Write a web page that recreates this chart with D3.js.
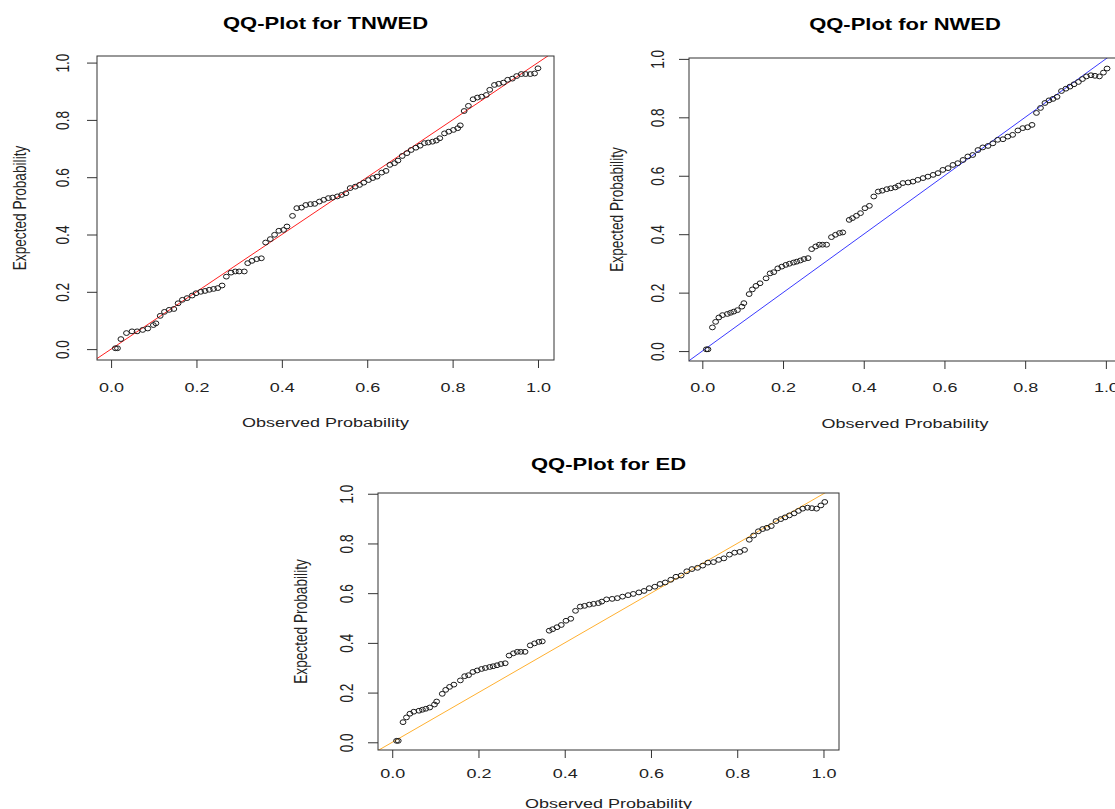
<!DOCTYPE html>
<html lang="en">
<head>
<meta charset="UTF-8">
<title>QQ-Plots</title>
<style>
  body { margin: 0; background: #fff; overflow: hidden; }
  svg { display: block; font-family: "Liberation Sans", Arial, sans-serif; }
</style>
</head>
<body>
<div id="chart"></div>
<script src="https://d3js.org/d3.v7.min.js"></script>
<script>
// axis ticks shared by all three plots
const tickValues = [0, 0.2, 0.4, 0.6, 0.8, 1.0];
const tickLabels = ["0.0", "0.2", "0.4", "0.6", "0.8", "1.0"];

// TNWED: observed vs expected probability
const tnwedObserved = [0.010, 0.015, 0.023, 0.036, 0.049, 0.061, 0.074, 0.086, 0.099, 0.105,
  0.115, 0.125, 0.136, 0.147, 0.157, 0.167, 0.178, 0.190, 0.199, 0.210,
  0.220, 0.230, 0.240, 0.250, 0.260, 0.270, 0.281, 0.291, 0.300, 0.312,
  0.320, 0.330, 0.341, 0.352, 0.362, 0.373, 0.383, 0.393, 0.404, 0.412,
  0.425, 0.435, 0.446, 0.456, 0.467, 0.477, 0.488, 0.498, 0.509, 0.519,
  0.530, 0.540, 0.550, 0.560, 0.572, 0.582, 0.592, 0.603, 0.613, 0.623,
  0.634, 0.644, 0.653, 0.664, 0.672, 0.682, 0.693, 0.703, 0.714, 0.724,
  0.734, 0.743, 0.753, 0.762, 0.770, 0.781, 0.791, 0.802, 0.812, 0.818,
  0.827, 0.837, 0.848, 0.858, 0.868, 0.879, 0.887, 0.898, 0.908, 0.919,
  0.929, 0.940, 0.950, 0.961, 0.971, 0.982, 0.992, 1.000];
const tnwedExpected = [0.003, 0.003, 0.035, 0.056, 0.062, 0.062, 0.067, 0.072, 0.084, 0.090,
  0.116, 0.130, 0.137, 0.140, 0.160, 0.172, 0.178, 0.187, 0.195, 0.200,
  0.203, 0.207, 0.210, 0.213, 0.222, 0.253, 0.267, 0.271, 0.271, 0.271,
  0.300, 0.308, 0.314, 0.317, 0.372, 0.384, 0.399, 0.413, 0.416, 0.428,
  0.465, 0.492, 0.494, 0.503, 0.506, 0.507, 0.515, 0.521, 0.527, 0.529,
  0.533, 0.538, 0.544, 0.562, 0.567, 0.573, 0.581, 0.590, 0.597, 0.602,
  0.616, 0.622, 0.643, 0.649, 0.658, 0.674, 0.684, 0.695, 0.703, 0.710,
  0.719, 0.721, 0.724, 0.728, 0.736, 0.753, 0.759, 0.765, 0.771, 0.781,
  0.831, 0.849, 0.872, 0.878, 0.881, 0.887, 0.905, 0.922, 0.926, 0.930,
  0.940, 0.944, 0.953, 0.960, 0.960, 0.960, 0.962, 0.980];

// NWED
const nwedObserved = [0.010, 0.014, 0.025, 0.033, 0.041, 0.050, 0.062, 0.070, 0.078, 0.087,
  0.098, 0.103, 0.116, 0.124, 0.133, 0.143, 0.158, 0.168, 0.177, 0.187,
  0.197, 0.207, 0.216, 0.226, 0.234, 0.243, 0.252, 0.262, 0.271, 0.281,
  0.290, 0.298, 0.308, 0.320, 0.330, 0.340, 0.348, 0.364, 0.372, 0.382,
  0.392, 0.403, 0.414, 0.425, 0.436, 0.446, 0.457, 0.467, 0.478, 0.486,
  0.497, 0.510, 0.522, 0.534, 0.547, 0.559, 0.572, 0.584, 0.596, 0.609,
  0.621, 0.633, 0.646, 0.658, 0.670, 0.683, 0.695, 0.708, 0.720, 0.732,
  0.745, 0.757, 0.769, 0.782, 0.794, 0.806, 0.817, 0.828, 0.838, 0.849,
  0.859, 0.869, 0.879, 0.890, 0.901, 0.911, 0.921, 0.932, 0.942, 0.952,
  0.963, 0.973, 0.984, 0.994, 1.003];
const nwedExpected = [0.006, 0.006, 0.081, 0.100, 0.115, 0.123, 0.127, 0.131, 0.135, 0.140,
  0.152, 0.164, 0.195, 0.211, 0.223, 0.232, 0.249, 0.266, 0.270, 0.283,
  0.289, 0.295, 0.299, 0.303, 0.306, 0.310, 0.315, 0.318, 0.349, 0.358,
  0.364, 0.364, 0.364, 0.390, 0.398, 0.404, 0.406, 0.449, 0.455, 0.463,
  0.472, 0.489, 0.497, 0.529, 0.546, 0.549, 0.554, 0.557, 0.560, 0.566,
  0.575, 0.577, 0.580, 0.586, 0.592, 0.597, 0.603, 0.609, 0.620, 0.626,
  0.637, 0.643, 0.654, 0.666, 0.671, 0.688, 0.697, 0.702, 0.711, 0.723,
  0.725, 0.734, 0.740, 0.755, 0.763, 0.766, 0.774, 0.815, 0.832, 0.849,
  0.858, 0.863, 0.870, 0.890, 0.898, 0.905, 0.913, 0.921, 0.931, 0.940,
  0.944, 0.942, 0.940, 0.953, 0.967];

// ED (reads the same as NWED in the picture)
const edObserved = [0.010, 0.014, 0.025, 0.033, 0.041, 0.050, 0.062, 0.070, 0.078, 0.087,
  0.098, 0.103, 0.116, 0.124, 0.133, 0.143, 0.158, 0.168, 0.177, 0.187,
  0.197, 0.207, 0.216, 0.226, 0.234, 0.243, 0.252, 0.262, 0.271, 0.281,
  0.290, 0.298, 0.308, 0.320, 0.330, 0.340, 0.348, 0.364, 0.372, 0.382,
  0.392, 0.403, 0.414, 0.425, 0.436, 0.446, 0.457, 0.467, 0.478, 0.486,
  0.497, 0.510, 0.522, 0.534, 0.547, 0.559, 0.572, 0.584, 0.596, 0.609,
  0.621, 0.633, 0.646, 0.658, 0.670, 0.683, 0.695, 0.708, 0.720, 0.732,
  0.745, 0.757, 0.769, 0.782, 0.794, 0.806, 0.817, 0.828, 0.838, 0.849,
  0.859, 0.869, 0.879, 0.890, 0.901, 0.911, 0.921, 0.932, 0.942, 0.952,
  0.963, 0.973, 0.984, 0.994, 1.003];
const edExpected = [0.006, 0.006, 0.081, 0.100, 0.115, 0.123, 0.127, 0.131, 0.135, 0.140,
  0.152, 0.164, 0.195, 0.211, 0.223, 0.232, 0.249, 0.266, 0.270, 0.283,
  0.289, 0.295, 0.299, 0.303, 0.306, 0.310, 0.315, 0.318, 0.349, 0.358,
  0.364, 0.364, 0.364, 0.390, 0.398, 0.404, 0.406, 0.449, 0.455, 0.463,
  0.472, 0.489, 0.497, 0.529, 0.546, 0.549, 0.554, 0.557, 0.560, 0.566,
  0.575, 0.577, 0.580, 0.586, 0.592, 0.597, 0.603, 0.609, 0.620, 0.626,
  0.637, 0.643, 0.654, 0.666, 0.671, 0.688, 0.697, 0.702, 0.711, 0.723,
  0.725, 0.734, 0.740, 0.755, 0.763, 0.766, 0.774, 0.815, 0.832, 0.849,
  0.858, 0.863, 0.870, 0.890, 0.898, 0.905, 0.913, 0.921, 0.931, 0.940,
  0.944, 0.942, 0.940, 0.953, 0.967];

const width = 1115;
const height = 809;
const SQ = 0.76;   // text is a bit squashed vertically in the original

const panels = [
  { title: "QQ-Plot for TNWED", obs: tnwedObserved, exp: tnwedExpected, color: "#ff2020",
    box: { left: 97, top: 56, right: 554, bottom: 360 },
    xDomain: [-0.033, 1.0375], yDomain: [-0.038, 1.023],
    titleOff: 33, tickOff: 27, xlabOff: 62, ytickOff: 34, ylabOff: 77 },
  { title: "QQ-Plot for NWED", obs: nwedObserved, exp: nwedExpected, color: "#3a3aff",
    box: { left: 689, top: 58, right: 1121, bottom: 361 },
    xDomain: [-0.033, 1.0375], yDomain: [-0.034, 1.003],
    titleOff: 34, tickOff: 26, xlabOff: 62, ytickOff: 31, ylabOff: 72 },
  { title: "QQ-Plot for ED", obs: edObserved, exp: edExpected, color: "#ffb030",
    box: { left: 378, top: 493, right: 839, bottom: 750 },
    xDomain: [-0.033, 1.036], yDomain: [-0.031, 1.003],
    titleOff: 29, tickOff: 23, xlabOff: 53, ytickOff: 31, ylabOff: 77 }
];

const svg = d3.select('#chart')
  .append('svg')
  .attr('width', width)
  .attr('height', height);

svg.append('rect').attr('width', width).attr('height', height).attr('fill', '#fff');

function label(g, x, y, text, size, bold, rotate) {
  g.append('g')
    .attr('transform', `translate(${x},${y}) scale(1,${SQ})`)
    .append('text')
    .attr('transform', rotate ? 'rotate(-90)' : null)
    .attr('text-anchor', 'middle')
    .attr('dominant-baseline', 'central')
    .attr('font-size', size)
    .attr('font-weight', bold ? 'bold' : 'normal')
    .attr('fill', bold ? '#000' : '#222')
    .text(text);
}

panels.forEach((p, i) => {
  const b = p.box;
  const g = svg.append('g');
  const x = d3.scaleLinear().domain(p.xDomain).range([b.left, b.right]);
  const y = d3.scaleLinear().domain(p.yDomain).range([b.bottom, b.top]);

  const clipId = 'clip' + i;
  g.append('clipPath').attr('id', clipId)
    .append('rect')
    .attr('x', b.left).attr('y', b.top)
    .attr('width', b.right - b.left).attr('height', b.bottom - b.top);

  // reference line y = x
  g.append('line')
    .attr('clip-path', `url(#${clipId})`)
    .attr('x1', x(p.xDomain[0])).attr('y1', y(p.xDomain[0]))
    .attr('x2', x(p.xDomain[1])).attr('y2', y(p.xDomain[1]))
    .attr('stroke', p.color)
    .attr('stroke-width', 1);

  // points (open circles)
  g.append('g')
    .selectAll('ellipse')
    .data(p.obs.map((o, k) => [o, p.exp[k]]))
    .enter().append('ellipse')
    .attr('cx', d => x(d[0]))
    .attr('cy', d => y(d[1]))
    .attr('rx', 2.9)
    .attr('ry', 2.4)
    .attr('fill', 'none')
    .attr('stroke', '#1a1a1a')
    .attr('stroke-width', 1);

  // box
  g.append('rect')
    .attr('x', b.left).attr('y', b.top)
    .attr('width', b.right - b.left).attr('height', b.bottom - b.top)
    .attr('fill', 'none')
    .attr('stroke', '#333')
    .attr('stroke-width', 1);

  // x axis
  const xAxis = g.append('g')
    .attr('transform', `translate(0,${b.bottom})`)
    .call(d3.axisBottom(x).tickValues(tickValues)
      .tickFormat((d, k) => tickLabels[k]).tickSize(8).tickSizeOuter(0));
  xAxis.select('.domain').remove();
  xAxis.selectAll('line').attr('stroke', '#333');
  xAxis.selectAll('text')
    .attr('y', null).attr('dy', null)
    .attr('dominant-baseline', 'central')
    .attr('font-size', 18)
    .attr('font-family', '"Liberation Sans", Arial, sans-serif')
    .attr('fill', '#222')
    .attr('transform', `translate(0,${p.tickOff}) scale(1,${SQ})`);

  // y axis
  const yAxis = g.append('g')
    .attr('transform', `translate(${b.left},0)`)
    .call(d3.axisLeft(y).tickValues(tickValues)
      .tickFormat((d, k) => tickLabels[k]).tickSize(10).tickSizeOuter(0));
  yAxis.select('.domain').remove();
  yAxis.selectAll('line').attr('stroke', '#333');
  yAxis.selectAll('text')
    .attr('x', null).attr('dy', null)
    .attr('text-anchor', 'middle')
    .attr('dominant-baseline', 'central')
    .attr('font-size', 18)
    .attr('font-family', '"Liberation Sans", Arial, sans-serif')
    .attr('fill', '#222')
    .attr('transform', `translate(${-p.ytickOff},0) scale(1,${SQ}) rotate(-90)`);

  const cx = (b.left + b.right) / 2;
  const cy = (b.top + b.bottom) / 2;
  label(g, cx, b.top - p.titleOff, p.title, 22, true, false);
  label(g, cx, b.bottom + p.xlabOff, 'Observed Probability', 18, false, false);
  label(g, b.left - p.ylabOff, cy, 'Expected Probability', 18, false, true);
});
</script>
</body>
</html>
